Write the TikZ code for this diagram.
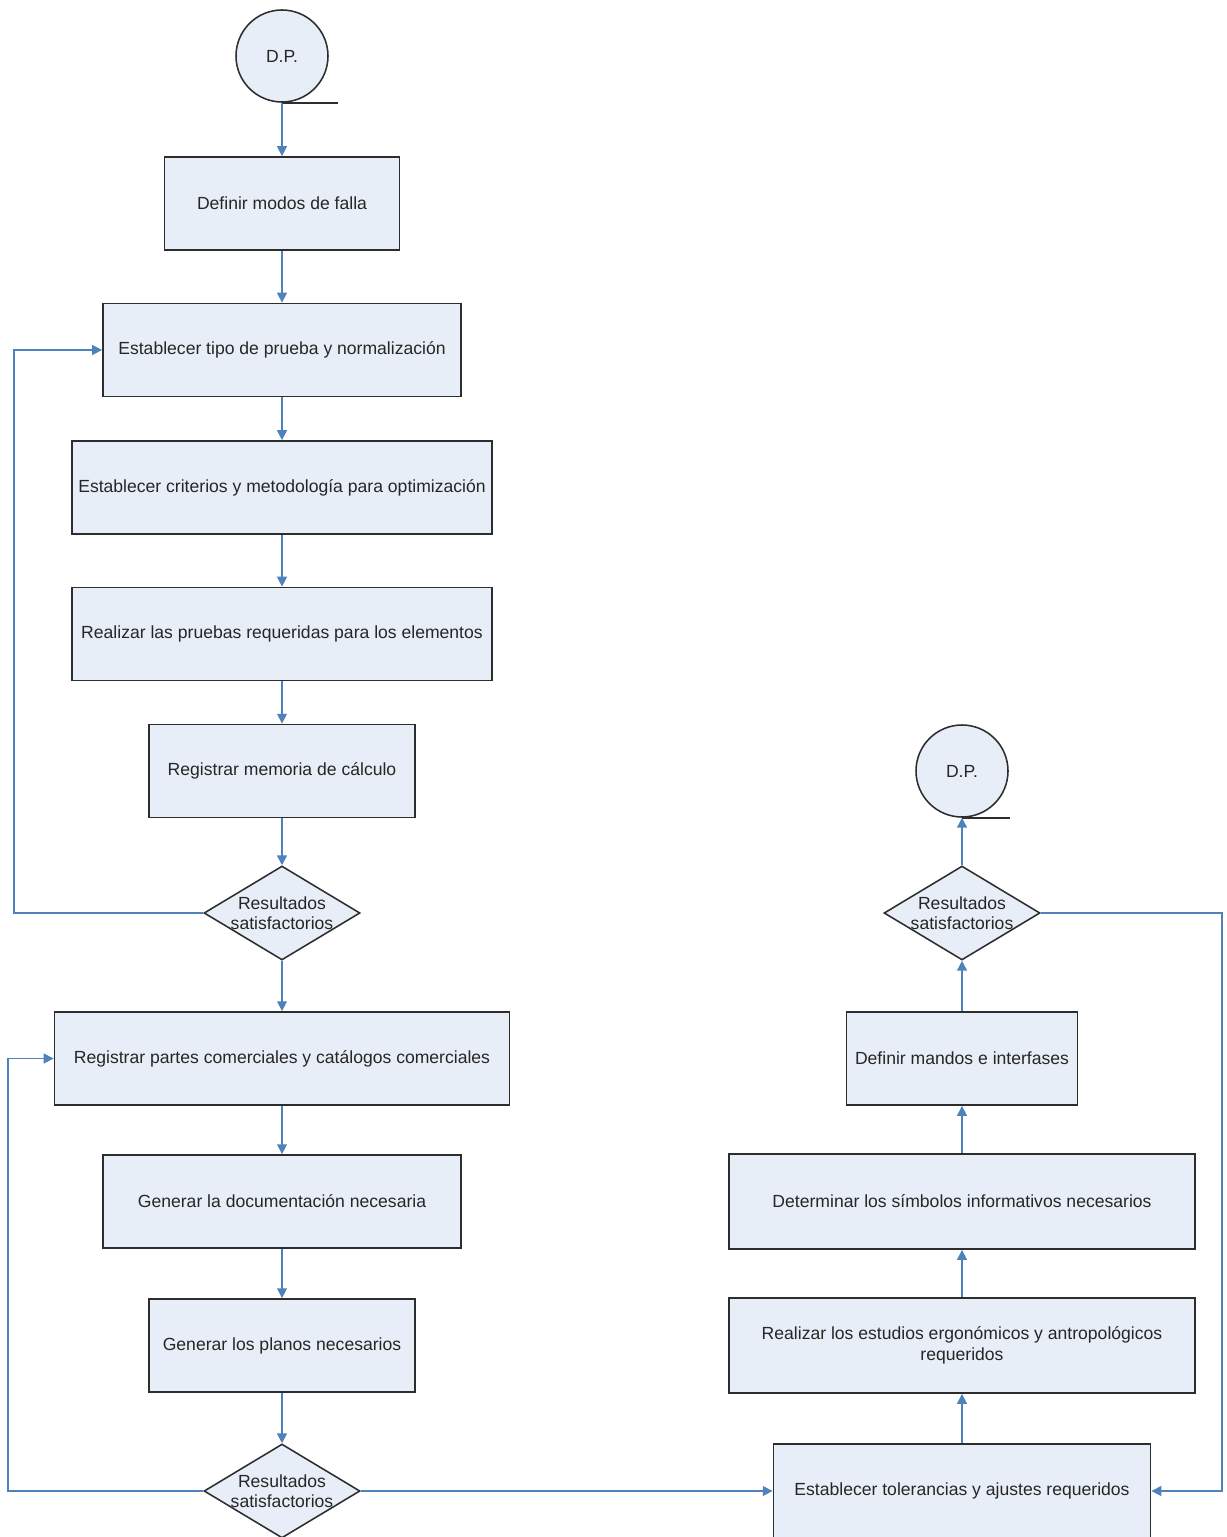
\documentclass[tikz,border=0pt]{standalone}
\usepackage{fontspec}
\setmainfont{Liberation Sans}
\usetikzlibrary{shapes.geometric,arrows.meta}

\newlength{\du}
\setlength{\du}{0.025cm}

\definecolor{boxfill}{RGB}{232,238,247}
\definecolor{boxline}{RGB}{45,45,45}
\definecolor{flowblue}{RGB}{79,129,189}

\tikzset{
  proc/.style={rectangle, draw=boxline, line width=1.3pt, fill=boxfill,
    minimum height=93\du, inner sep=0pt, align=center},
  decision/.style={diamond, draw=boxline, line width=1.1pt, fill=boxfill,
    minimum width=156\du, minimum height=94\du, inner sep=0pt},
  dpcircle/.style={circle, draw=boxline, line width=1.1pt, fill=boxfill,
    minimum size=92\du, inner sep=0pt},
  decitext/.style={align=center, inner sep=0pt},
  flow/.style={draw=flowblue, line width=1.1pt,
    -{Triangle[length=7pt,width=7pt]}},
}

\begin{document}
\begin{tikzpicture}[yscale=-1, font=\fontsize{12.5}{14.6}\selectfont, text=black!85]
\useasboundingbox[fill=white] (0,0) rectangle (1227\du,1537\du);

% left column
\node[dpcircle] (c1) at (282\du,56\du) {D.P.};
\draw[boxline, line width=1.1pt] (c1.south) -- ++(56\du,0);
\node[proc, minimum width=235\du] (b1) at (282\du,203.5\du) {Definir modos de falla};
\node[proc, minimum width=358\du] (b2) at (282\du,350\du) {Establecer tipo de prueba y normalización};
\node[proc, minimum width=420\du] (b3) at (282\du,487.5\du) {Establecer criterios y metodología para optimización};
\node[proc, minimum width=420\du] (b4) at (282\du,634\du) {Realizar las pruebas requeridas para los elementos};
\node[proc, minimum width=266\du] (b5) at (282\du,771\du) {Registrar memoria de cálculo};
\node[decision] (d1) at (282\du,913\du) {};
\node[decitext] (d1t) at (d1) {Resultados\\satisfactorios};
\node[proc, minimum width=455\du] (b6) at (282\du,1058.5\du) {Registrar partes comerciales y catálogos comerciales};
\node[proc, minimum width=358\du] (b7) at (282\du,1201.5\du) {Generar la documentación necesaria};
\node[proc, minimum width=266\du] (b8) at (282\du,1345.5\du) {Generar los planos necesarios};
\node[decision] (d2) at (282\du,1491\du) {};
\node[decitext] (d2t) at (d2) {Resultados\\satisfactorios};

% right column
\node[proc, minimum width=377\du, minimum height=94\du] (b9) at (962\du,1491\du) {Establecer tolerancias y ajustes requeridos};
\node[proc, minimum width=466\du, minimum height=95\du] (b10) at (962\du,1345.5\du) {Realizar los estudios ergonómicos y antropológicos\\requeridos};
\node[proc, minimum width=466\du, minimum height=95\du] (b11) at (962\du,1201.5\du) {Determinar los símbolos informativos necesarios};
\node[proc, minimum width=231\du] (b12) at (962\du,1058.5\du) {Definir mandos e interfases};
\node[decision] (d3) at (962\du,913\du) {};
\node[decitext] (d3t) at (d3) {Resultados\\satisfactorios};
\node[dpcircle] (c2) at (962\du,771\du) {D.P.};
\draw[boxline, line width=1.1pt] (c2.south) -- ++(48\du,0);

% loop corners
\coordinate (l1) at (14\du,913\du);
\coordinate (l2) at (8\du,1491\du);
\coordinate (r1) at (1222\du,913\du);

% connectors
\draw[flow] (c1.south) -- (b1.north);
\draw[flow] (b1) -- (b2);
\draw[flow] (b2) -- (b3);
\draw[flow] (b3) -- (b4);
\draw[flow] (b4) -- (b5);
\draw[flow] (b5) -- (d1.north);
\draw[flow] (d1.south) -- (b6.north);
\draw[flow] (b6) -- (b7);
\draw[flow] (b7) -- (b8);
\draw[flow] (b8) -- (d2.north);
\draw[flow] (d1.west) -- (l1) |- (b2.west);
\draw[flow] (d2.west) -- (l2) |- (b6.west);
\draw[flow] (d2.east) -- (b9.west);
\draw[flow] (b9) -- (b10);
\draw[flow] (b10) -- (b11);
\draw[flow] (b11) -- (b12);
\draw[flow] (b12) -- (d3.south);
\draw[flow] (d3.north) -- (c2.south);
\draw[flow] (d3.east) -- (r1) |- (b9.east);
\end{tikzpicture}
\end{document}
